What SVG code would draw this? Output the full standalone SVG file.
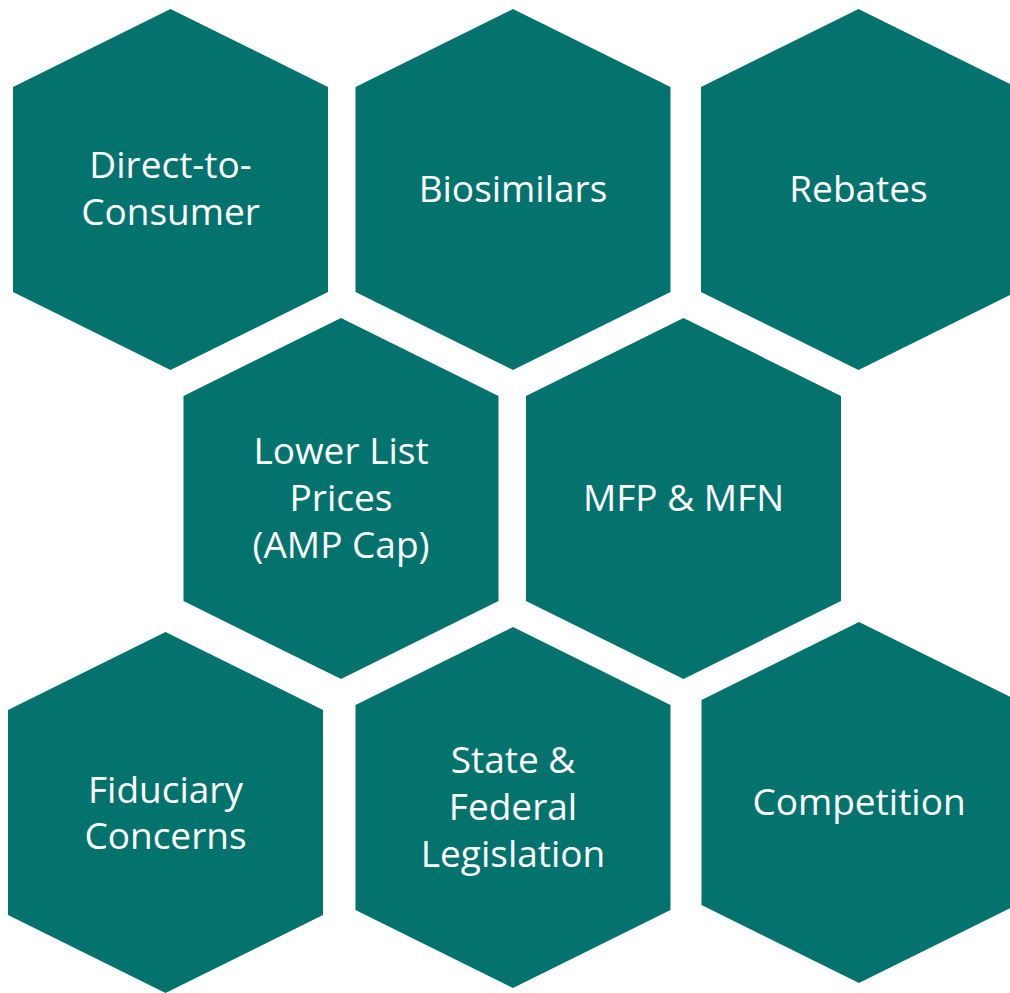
<svg xmlns="http://www.w3.org/2000/svg" width="1010" height="993" viewBox="0 0 1010 993">
<style>
.hex{fill:#04736E;}
.lbl{font-family:"Open Sans","Liberation Sans",sans-serif;font-size:37px;fill:#FFFFFF;text-anchor:middle;}
</style>
<defs>
<polygon id="hexshape" points="0,0 157.5,78 157.5,283 0,361 -157.5,283 -157.5,78"/>
</defs>
<rect x="0" y="0" width="1010" height="993" fill="#FFFFFF"/>
<g id="connectors"/>
<g id="node-direct-to-consumer">
<use href="#hexshape" class="hex" x="170.5" y="9"/>
<text class="lbl" x="170.5" y="178">Direct-to-</text>
<text class="lbl" x="170.5" y="225">Consumer</text>
</g>
<g id="node-biosimilars">
<use href="#hexshape" class="hex" x="513" y="9"/>
<text class="lbl" x="513" y="202">Biosimilars</text>
</g>
<g id="node-rebates">
<use href="#hexshape" class="hex" x="858.5" y="9"/>
<text class="lbl" x="858.5" y="202">Rebates</text>
</g>
<g id="node-lower-list-prices">
<use href="#hexshape" class="hex" x="341" y="318"/>
<text class="lbl" x="341" y="464">Lower List</text>
<text class="lbl" x="341" y="511">Prices</text>
<text class="lbl" x="341" y="558">(AMP Cap)</text>
</g>
<g id="node-mfp-mfn">
<use href="#hexshape" class="hex" x="683.5" y="318"/>
<text class="lbl" x="683.5" y="511">MFP &amp; MFN</text>
</g>
<g id="node-fiduciary-concerns">
<use href="#hexshape" class="hex" x="165.5" y="632"/>
<text class="lbl" x="165.5" y="803">Fiduciary</text>
<text class="lbl" x="165.5" y="849">Concerns</text>
</g>
<g id="node-state-federal-legislation">
<use href="#hexshape" class="hex" x="513" y="627"/>
<text class="lbl" x="513" y="773">State &amp;</text>
<text class="lbl" x="513" y="820">Federal</text>
<text class="lbl" x="513" y="867">Legislation</text>
</g>
<g id="node-competition">
<use href="#hexshape" class="hex" x="859" y="622"/>
<text class="lbl" x="859" y="815">Competition</text>
</g>
</svg>
